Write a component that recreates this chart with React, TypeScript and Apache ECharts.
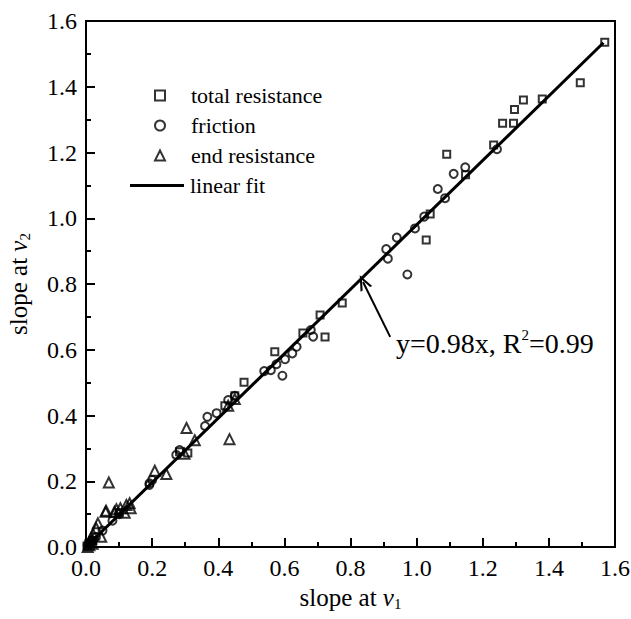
import React, { useEffect, useRef } from "react";
import * as echarts from "echarts";

// ---- data ----
const totalResistance: number[][] = [
  [0.003, 0.003], [0.008, 0.01], [0.015, 0.012], [0.02, 0.02], [0.1, 0.105],
  [0.283, 0.29], [0.308, 0.286], [0.42, 0.43], [0.45, 0.46], [0.478, 0.501],
  [0.571, 0.594], [0.656, 0.651], [0.708, 0.706], [0.723, 0.639], [0.775, 0.742],
  [1.029, 0.934], [1.041, 1.013], [1.091, 1.195], [1.148, 1.132], [1.233, 1.223],
  [1.26, 1.289], [1.293, 1.289], [1.296, 1.331], [1.323, 1.36], [1.38, 1.363],
  [1.495, 1.412], [1.569, 1.535],
];
const friction: number[][] = [
  [0.005, 0.005], [0.012, 0.01], [0.02, 0.02], [0.03, 0.03], [0.05, 0.05],
  [0.08, 0.08], [0.1, 0.1], [0.192, 0.194], [0.2, 0.204], [0.192, 0.189],
  [0.273, 0.28], [0.283, 0.295], [0.36, 0.368], [0.367, 0.396], [0.395, 0.407],
  [0.43, 0.447], [0.45, 0.46], [0.539, 0.535], [0.559, 0.538], [0.576, 0.556],
  [0.594, 0.521], [0.602, 0.571], [0.624, 0.589], [0.637, 0.609], [0.687, 0.64],
  [0.68, 0.66], [0.908, 0.906], [0.913, 0.877], [0.94, 0.941], [0.972, 0.829],
  [0.995, 0.969], [1.023, 1.005], [1.064, 1.089], [1.086, 1.061], [1.112, 1.135],
  [1.147, 1.155], [1.243, 1.21],
];
const endResistance: number[][] = [
  [0.005, 0.0], [0.01, 0.005], [0.016, 0.026], [0.021, 0.04], [0.031, 0.057],
  [0.036, 0.072], [0.046, 0.031], [0.02, 0.01], [0.059, 0.107], [0.061, 0.11],
  [0.069, 0.196], [0.086, 0.107], [0.092, 0.115], [0.104, 0.118], [0.117, 0.104],
  [0.122, 0.128], [0.135, 0.118], [0.132, 0.133], [0.208, 0.232], [0.243, 0.222],
  [0.298, 0.284], [0.304, 0.362], [0.329, 0.325], [0.434, 0.328], [0.43, 0.43],
  [0.45, 0.45],
];
const fitSlope = 0.98;
const fitXRange = [0, 1.565];
const arrowFrom = [0.92, 0.639];
const arrowTo = [0.838, 0.806];
const seriesNames = ["total resistance", "friction", "end resistance", "linear fit"];

const FONT = "'Liberation Serif', 'Times New Roman', serif";

export default function App() {
  const ref = useRef<HTMLDivElement>(null);
  useEffect(() => {
    document.body.style.margin = "0";
    if (!ref.current) return;
    const chart = echarts.init(ref.current, null, { renderer: "svg" });
    const fitData = fitXRange.map((x) => [x, fitSlope * x]);
    const chevron = "path://M6,0 L12,13 L9.8,13 L6,4.2 L2.2,13 L0,13 Z";
    const markerStyle = { color: "rgba(0,0,0,0)", borderColor: "#000", borderWidth: 2 };
    const axisCommon = {
      type: "value",
      min: 0,
      max: 1.6,
      interval: 0.2,
      nameLocation: "middle",
      axisLine: { show: true, onZero: false, lineStyle: { color: "#000", width: 2 } },
      axisTick: { show: true, inside: true, length: 9, lineStyle: { color: "#000", width: 2 } },
      minorTick: { show: true, splitNumber: 2, length: 5, lineStyle: { color: "#000", width: 2 } },
      splitLine: { show: false },
      axisLabel: {
        color: "#000",
        fontFamily: FONT,
        fontSize: 24,
        margin: 9,
        formatter: (v: number) => v.toFixed(1),
      },
    };
    const nameRich = {
      m: { fontFamily: FONT, fontSize: 25, color: "#000", lineHeight: 28 },
      i: { fontFamily: FONT, fontSize: 25, fontStyle: "italic", color: "#000", lineHeight: 28 },
      s: { fontFamily: FONT, fontSize: 15, color: "#000", lineHeight: 16, verticalAlign: "bottom" },
    };
    const legendText = { fontFamily: FONT, fontSize: 22, color: "#000", lineHeight: 23 };
    chart.setOption({
      animation: false,
      backgroundColor: "#fff",
      grid: {
        left: 86,
        top: 21,
        width: 529,
        height: 526,
        show: true,
        borderColor: "#000",
        borderWidth: 2,
        outerBoundsMode: "none",
        containLabel: false,
      },
      xAxis: {
        ...axisCommon,
        name: "{m|slope at }{i|v}{s|1}",
        nameGap: 22,
        nameTextStyle: { rich: nameRich },
      },
      yAxis: {
        ...axisCommon,
        name: "{m|slope at }{i|v}{s|2}",
        nameGap: 54,
        nameTextStyle: { rich: nameRich },
      },
      legend: [
        {
          left: 154,
          top: 84,
          padding: 0,
          orient: "vertical",
          itemWidth: 10,
          itemHeight: 10,
          itemGap: 7,
          symbolKeepAspect: true,
          data: seriesNames.slice(0, 3),
          textStyle: { ...legendText, padding: [0, 0, 0, 21] },
          selectedMode: false,
        },
        {
          left: 130,
          top: 174,
          padding: 0,
          orient: "vertical",
          itemWidth: 54,
          itemHeight: 3,
          data: [{ name: seriesNames[3], icon: "rect" }],
          textStyle: { ...legendText, padding: [0, 0, 0, 1] },
          selectedMode: false,
        },
      ],
      graphic: [
        {
          type: "text",
          left: 396,
          top: 327,
          style: {
            text: "{m|y=0.98x, R}{p|2}{m|=0.99}",
            rich: {
              m: { fontFamily: FONT, fontSize: 28, color: "#000", lineHeight: 32 },
              p: { fontFamily: FONT, fontSize: 15, color: "#000", lineHeight: 24, verticalAlign: "top" },
            },
          },
        },
      ],
      series: [
        {
          name: seriesNames[0],
          type: "scatter",
          symbol: "rect",
          symbolSize: 7,
          itemStyle: markerStyle,
          data: totalResistance,
          z: 3,
        },
        {
          name: seriesNames[1],
          type: "scatter",
          symbol: "circle",
          symbolSize: 8,
          itemStyle: markerStyle,
          data: friction,
          z: 3,
        },
        {
          name: seriesNames[2],
          type: "scatter",
          symbol: "triangle",
          symbolSize: 10,
          itemStyle: markerStyle,
          data: endResistance,
          z: 3,
        },
        {
          name: seriesNames[3],
          type: "line",
          symbol: "none",
          showSymbol: false,
          lineStyle: { color: "#000", width: 3 },
          itemStyle: { color: "#000" },
          data: fitData,
          z: 2,
          markLine: {
            silent: true,
            symbol: ["none", chevron],
            symbolSize: [13, 15],
            lineStyle: { color: "#000", width: 2, type: "solid" },
            itemStyle: { color: "#000" },
            label: { show: false },
            emphasis: { disabled: true },
            data: [[{ coord: arrowFrom }, { coord: arrowTo }]],
          },
        },
      ],
    });
    return () => chart.dispose();
  }, []);
  return <div ref={ref} style={{ width: 631, height: 619 }} />;
}
